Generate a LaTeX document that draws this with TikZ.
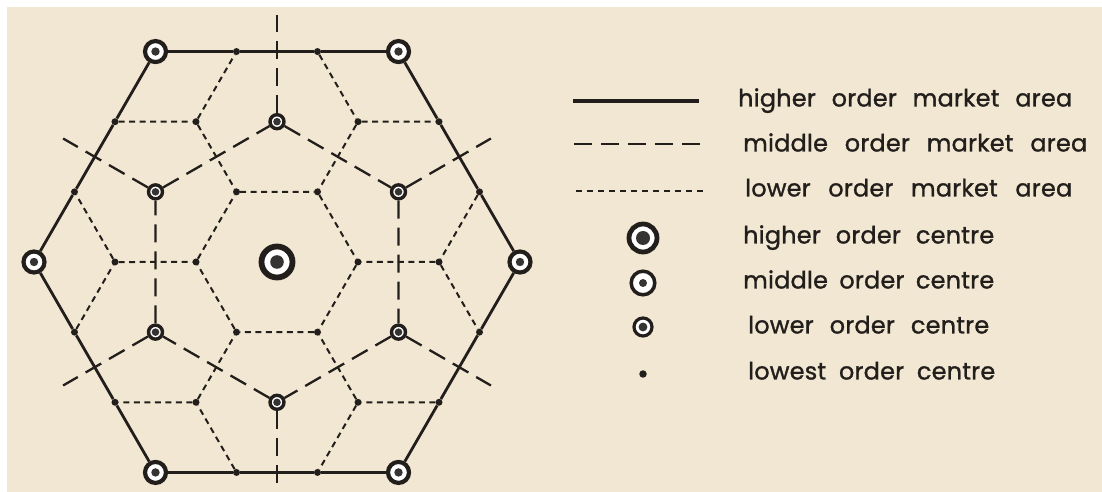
\documentclass[tikz,border=0pt]{standalone}
\usepackage{fontspec}
\setmainfont{Poppins}[LetterSpace=1,FakeBold=1.2]
\usetikzlibrary{calc}
\definecolor{paper}{HTML}{F2E7D2}
\definecolor{ink}{HTML}{221E1B}
\definecolor{core}{HTML}{363432}
\tikzset{coreR/.store in=\coreR, coreR=4bp}
\begin{document}
\begin{tikzpicture}[x=1bp, y=-1bp,
  solidln/.style={draw=ink, line width=2.8bp},
  middash/.style={draw=ink, line width=2.3bp, dash pattern=on 18bp off 9bp},
  lowdash/.style={draw=ink, line width=2bp, dash pattern=on 6bp off 4.5bp},
  centresym/.style={circle, draw=ink, fill=white, inner sep=0pt,
    path picture={\fill[core] (path picture bounding box.center) circle (\coreR);}},
  highc/.style={centresym, line width=5.8bp, minimum size=31bp, coreR=6.8bp},
  midc/.style={centresym, line width=4.2bp, minimum size=21bp, coreR=4.2bp},
  lowc/.style={centresym, line width=3.4bp, minimum size=14bp, coreR=3.8bp},
  lowestc/.style={circle, fill=ink, minimum size=7bp, inner sep=0pt},
  lbl/.style={anchor=base west, inner sep=0pt, text=ink, font=\fontsize{24}{28}\selectfont}]
\fill[white] (0,0) rectangle (1102,492);
\fill[paper] (7,7) rectangle (1102,492);
\useasboundingbox (0,0) rectangle (1102,492);
\clip (0,0) rectangle (1102,492);

% ---------- map nodes ----------
\coordinate (C) at (277,262);
\node[highc] (H) at (C) {};
\foreach \j in {0,...,5}{
  \node[midc] (M\j) at ($(C)+({60*\j}:243)$) {};
  \node[lowc] (L\j) at ($(C)+({30+60*\j}:140.3)$) {};
  \node[lowestc] (c\j) at ($(C)+({60*\j}:81)$) {};
  \node[lowestc] (A\j) at ($(L\j)+({60+60*\j}:81)$) {};
  \node[lowestc] (B\j) at ($(L\j)+({120+60*\j}:81)$) {};
  \node[lowestc] (E\j) at ($(L\j)+({60*\j}:81)$) {};
  \coordinate (R\j) at ($(C)+({30+60*\j}:247)$);
}

% ---------- higher order market area ----------
\foreach \j/\n in {0/1,1/2,2/3,3/4,4/5,5/0}
  \draw[solidln] (M\j) -- (E\j) -- (A\j) -- (M\n);

% ---------- middle order market area ----------
\draw[middash] (L0) -- (L1) -- (L2) -- (L3) -- (L4) -- (L5) -- (L0);
\foreach \j in {0,...,5}
  \draw[middash] (L\j) -- (R\j);

% ---------- lower order market area ----------
\draw[lowdash] (c0) -- (c1) -- (c2) -- (c3) -- (c4) -- (c5) -- (c0);
\foreach \j/\n/\p in {0/1/5,1/2/0,2/3/1,3/4/2,4/5/3,5/0/4}{
  \draw[lowdash] (A\j) -- (B\j) -- (c\n);
  \draw[lowdash] (B\p) -- (E\j);
}

% ---------- legend ----------
\coordinate (s1a) at (573,101); \coordinate (s1b) at (699,101);
\coordinate (s2a) at (574,144); \coordinate (s2b) at (700,144);
\coordinate (s3a) at (576,191); \coordinate (s3b) at (703,191);
\draw[solidln, line width=3.2bp] (s1a) -- (s1b);
\draw[middash] (s2a) -- (s2b);
\draw[lowdash, dash pattern=on 6bp off 5bp] (s3a) -- (s3b);
\node[highc, line width=4.8bp, minimum size=28bp, coreR=7bp] (k4) at (643,238) {};
\node[midc, line width=3.5bp, minimum size=23.6bp, coreR=4bp] (k5) at (643,283) {};
\node[lowc, line width=3.2bp, minimum size=18bp, coreR=4.4bp] (k6) at (643,327) {};
\node[lowestc, minimum size=7.5bp] (k7) at (643,374) {};

\node[lbl] (t1) at (738,106.5) {\makebox[334bp][s]{higher order market area}};
\node[lbl] (t2) at (743,151.5) {\makebox[344bp][s]{middle order market area}};
\node[lbl] (t3) at (745,196.5) {\makebox[327bp][s]{lower order market area}};
\node[lbl] (t4) at (743,243.5) {\makebox[251bp][s]{higher order centre}};
\node[lbl] (t5) at (743,288.5) {\makebox[251bp][s]{middle order centre}};
\node[lbl] (t6) at (748,333.5) {\makebox[241bp][s]{lower order centre}};
\node[lbl] (t7) at (748,379.5) {\makebox[247bp][s]{lowest order centre}};
\end{tikzpicture}
\end{document}
